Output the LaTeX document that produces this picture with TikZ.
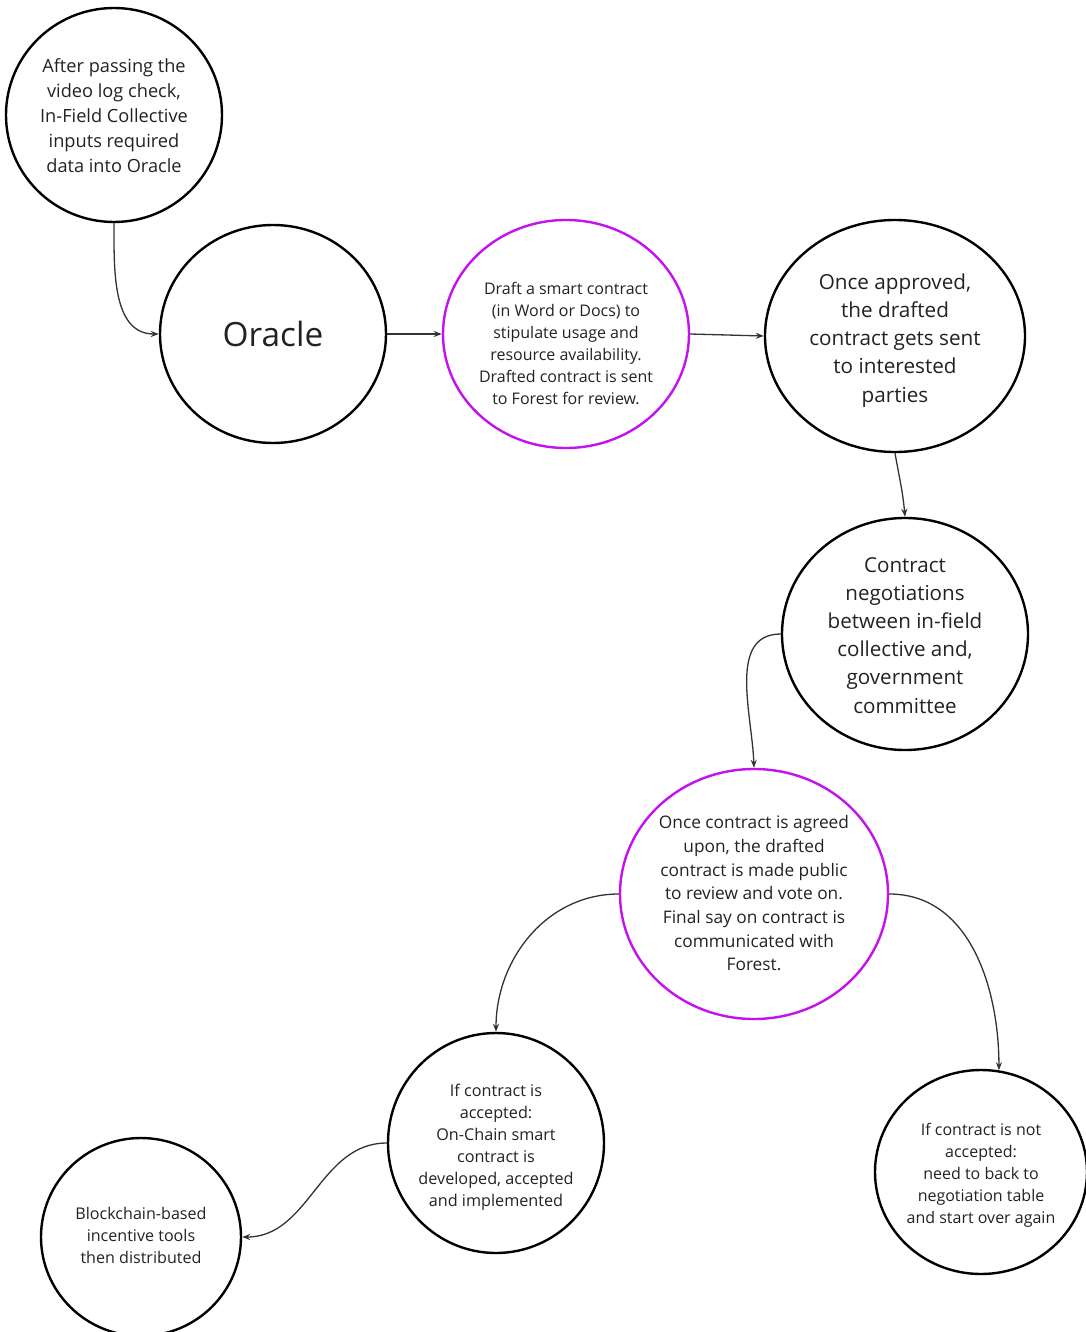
\documentclass[tikz,border=0pt]{standalone}
\usepackage{fontspec}
\setmainfont{Open Sans}
\usetikzlibrary{shapes.geometric,arrows.meta}
\definecolor{inkgray}{RGB}{34,34,34}
\definecolor{linegray}{RGB}{50,50,50}
\definecolor{violet}{RGB}{196,18,238}
\tikzset{
  bubble/.style={ellipse, draw=black, line width=2.4pt, inner sep=0pt,
    text=inkgray, align=center},
  hot/.style={bubble, draw=violet},
  link/.style={draw=linegray, line width=1.3pt,
    -{Stealth[length=8pt,width=6pt]}},
}
\newcommand{\fs}[2]{\fontsize{#1}{#2}\selectfont}
% centred lines of text of no size of their own, so the bubble keeps its
% given size; #1 lowers the block from the axis onto the bubble centre
\newcommand{\lowered}[2]{\smash{\makebox[0pt]{\raisebox{-#1}{\begin{tabular}{@{}c@{}}#2\end{tabular}}}}}
\begin{document}
\begin{tikzpicture}[x=1pt,y=-1pt]
  \useasboundingbox (0,0) rectangle (1085,1332);

  \node[bubble, minimum width=216pt, minimum height=214pt, font=\fs{18.2}{25}]
    (log) at (114,115)
    {\lowered{6.5pt}{After passing the\\video log check,\\In-Field Collective\\inputs required\\data into Oracle}};
  \node[bubble, minimum width=226pt, minimum height=218pt, font=\fs{33.4}{38}]
    (oracle) at (273,334) {Oracle};
  \node[hot, minimum width=246pt, minimum height=228pt, font=\fs{16}{22}]
    (draft) at (566,334)
    {\lowered{15pt}{Draft a smart contract\\(in Word or Docs) to\\stipulate usage and\\resource availability.\\Drafted contract is sent\\to Forest for review.}};
  \node[bubble, minimum width=260pt, minimum height=232pt, font=\fs{20.7}{28.2}]
    (approved) at (895,336)
    {\lowered{9.2pt}{Once approved,\\the drafted\\contract gets sent\\to interested\\parties}};
  \node[bubble, minimum width=246pt, minimum height=232pt, font=\fs{20.6}{28.2}]
    (negot) at (905,634)
    {\lowered{8.2pt}{Contract\\negotiations\\between in-field\\collective and,\\government\\committee}};
  \node[hot, minimum width=268pt, minimum height=250pt, font=\fs{17.3}{23.7}]
    (agreed) at (754,894)
    {\lowered{5.3pt}{Once contract is agreed\\upon, the drafted\\contract is made public\\to review and vote on.\\Final say on contract is\\communicated with\\Forest.}};
  \node[bubble, minimum width=216pt, minimum height=220pt, font=\fs{16.2}{22}]
    (accepted) at (496,1143)
    {\lowered{8pt}{If contract is\\accepted:\\On-Chain smart\\contract is\\developed, accepted\\and implemented}};
  \node[bubble, minimum width=212pt, minimum height=204pt, font=\fs{16}{22}]
    (rejected) at (981,1172)
    {\lowered{7pt}{If contract is not\\accepted:\\need to back to\\negotiation table\\and start over again}};
  \node[bubble, minimum width=200pt, minimum height=198pt, font=\fs{16.1}{22}]
    (tools) at (141,1237)
    {\lowered{4pt}{Blockchain-based\\incentive tools\\then distributed}};

  \draw[link] (log.south) to[out=-90,in=180] (oracle.west);
  \draw[link] (oracle.east) -- (draft.west);
  \draw[link] (draft.east) -- (approved.west);
  \draw[link] (approved.south) to[out=-80,in=95] (negot.north);
  \draw[link] (negot.west) to[out=180,in=92] (agreed.north);
  \draw[link] (agreed.west) to[out=180,in=90] (accepted.north);
  \draw[link] (agreed.east) to[out=0,in=90] (rejected.80);
  \draw[link] (accepted.west) to[out=180,in=0] (tools.east);
\end{tikzpicture}
\end{document}
